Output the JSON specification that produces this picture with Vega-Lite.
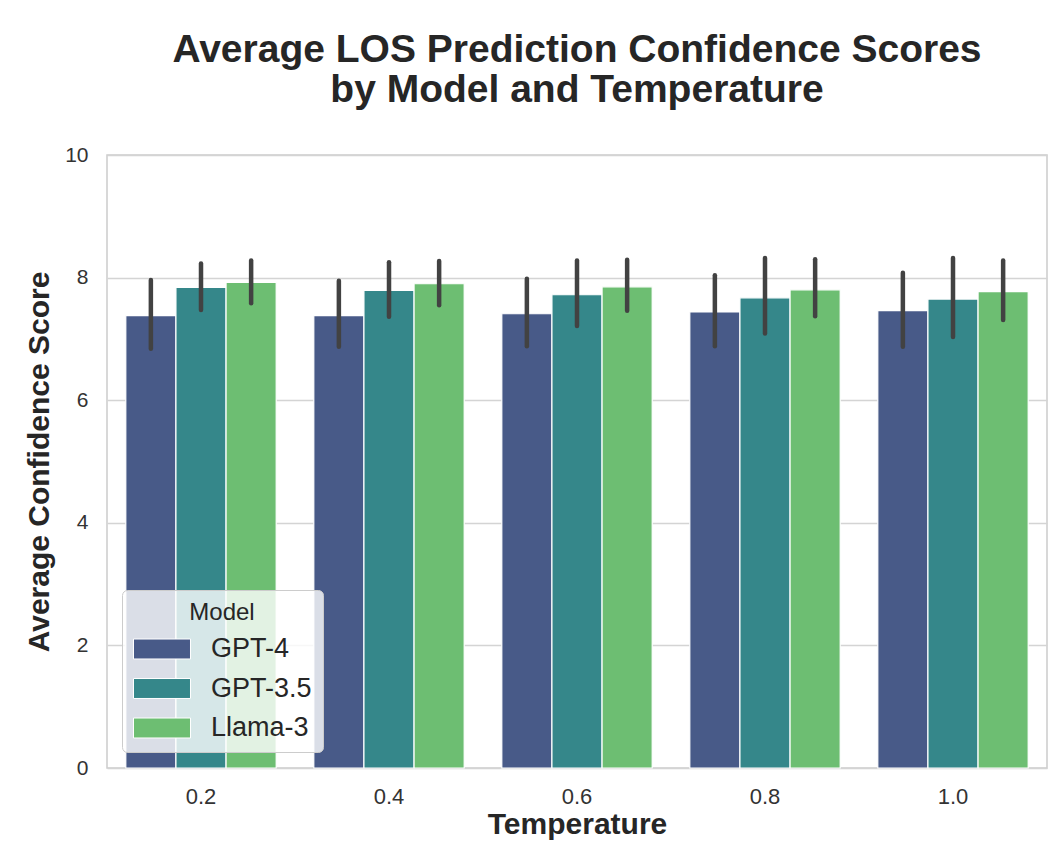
{
  "$schema": "https://vega.github.io/schema/vega-lite/v6.json",
  "width": 940,
  "height": 613,
  "autosize": {"type": "none"},
  "padding": {"left": 107, "top": 155, "right": 7, "bottom": 84},
  "background": "white",
  "title": {
    "text": ["Average LOS Prediction Confidence Scores", "by Model and Temperature"],
    "font": "Liberation Sans",
    "fontSize": 39,
    "fontWeight": "bold",
    "color": "#262626",
    "lineHeight": 40,
    "anchor": "middle",
    "offset": 34
  },
  "data": {
    "values": [
      {"temp": "0.2", "model": "GPT-4", "mean": 7.38, "lo": 6.84, "hi": 7.96},
      {"temp": "0.2", "model": "GPT-3.5", "mean": 7.84, "lo": 7.47, "hi": 8.23},
      {"temp": "0.2", "model": "Llama-3", "mean": 7.92, "lo": 7.58, "hi": 8.28},
      {"temp": "0.4", "model": "GPT-4", "mean": 7.38, "lo": 6.87, "hi": 7.95},
      {"temp": "0.4", "model": "GPT-3.5", "mean": 7.79, "lo": 7.36, "hi": 8.25},
      {"temp": "0.4", "model": "Llama-3", "mean": 7.90, "lo": 7.55, "hi": 8.27},
      {"temp": "0.6", "model": "GPT-4", "mean": 7.41, "lo": 6.88, "hi": 7.98},
      {"temp": "0.6", "model": "GPT-3.5", "mean": 7.72, "lo": 7.21, "hi": 8.28},
      {"temp": "0.6", "model": "Llama-3", "mean": 7.85, "lo": 7.46, "hi": 8.29},
      {"temp": "0.8", "model": "GPT-4", "mean": 7.44, "lo": 6.88, "hi": 8.04},
      {"temp": "0.8", "model": "GPT-3.5", "mean": 7.67, "lo": 7.09, "hi": 8.32},
      {"temp": "0.8", "model": "Llama-3", "mean": 7.80, "lo": 7.37, "hi": 8.30},
      {"temp": "1.0", "model": "GPT-4", "mean": 7.46, "lo": 6.87, "hi": 8.08},
      {"temp": "1.0", "model": "GPT-3.5", "mean": 7.65, "lo": 7.03, "hi": 8.32},
      {"temp": "1.0", "model": "Llama-3", "mean": 7.77, "lo": 7.31, "hi": 8.28}
    ]
  },
  "encoding": {
    "x": {
      "field": "temp",
      "type": "nominal",
      "sort": ["0.2", "0.4", "0.6", "0.8", "1.0"],
      "scale": {"paddingInner": 0.2, "paddingOuter": 0.1},
      "axis": {
        "title": "Temperature",
        "labelAngle": 0,
        "ticks": false,
        "domain": false,
        "grid": false,
        "labelPadding": 18,
        "labelFontSize": 22,
        "labelColor": "#333333",
        "labelFont": "Liberation Sans",
        "titleFont": "Liberation Sans",
        "titleFontSize": 30,
        "titleFontWeight": "bold",
        "titleColor": "#262626",
        "titlePadding": 2
      }
    },
    "xOffset": {
      "field": "model",
      "type": "nominal",
      "sort": ["GPT-4", "GPT-3.5", "Llama-3"],
      "scale": {"paddingInner": 0, "paddingOuter": 0}
    }
  },
  "layer": [
    {
      "mark": {"type": "bar", "stroke": "white", "strokeWidth": 1.2},
      "encoding": {
        "y": {
          "field": "mean",
          "type": "quantitative",
          "scale": {"domain": [0, 10], "nice": false},
          "axis": {
            "title": "Average Confidence Score",
            "values": [0, 2, 4, 6, 8, 10],
            "format": "d",
            "ticks": false,
            "domain": false,
            "grid": true,
            "gridColor": "#d4d4d4",
            "gridWidth": 1.5,
            "labelPadding": 19,
            "labelFontSize": 21,
            "labelColor": "#333333",
            "labelFont": "Liberation Sans",
            "titleFont": "Liberation Sans",
            "titleFontSize": 30,
            "titleFontWeight": "bold",
            "titleColor": "#262626",
            "titlePadding": 10
          }
        },
        "color": {
          "field": "model",
          "type": "nominal",
          "sort": ["GPT-4", "GPT-3.5", "Llama-3"],
          "scale": {
            "domain": ["GPT-4", "GPT-3.5", "Llama-3"],
            "range": ["#485a88", "#35878a", "#6dbe72"]
          },
          "legend": {
            "title": "Model",
            "orient": "none",
            "legendX": 15,
            "legendY": 435,
            "direction": "vertical",
            "fillColor": "rgba(255,255,255,0.8)",
            "strokeColor": "#cccccc",
            "cornerRadius": 5,
            "padding": 11,
            "titleFont": "Liberation Sans",
            "titleFontSize": 24,
            "titleFontWeight": "normal",
            "titleColor": "#262626",
            "titleAnchor": "middle",
            "titleAlign": "center",
            "titlePadding": 9,
            "labelFont": "Liberation Sans",
            "labelFontSize": 27,
            "labelColor": "#262626",
            "labelOffset": 34,
            "rowPadding": 11.5,
            "symbolType": "M-2,-0.7L2,-0.7L2,0.7L-2,0.7Z",
            "symbolSize": 812,
            "symbolOffset": 14,
            "symbolStrokeColor": "white",
            "symbolStrokeWidth": 1,
            "symbolOpacity": 1
          }
        }
      }
    },
    {
      "mark": {"type": "rule", "color": "#424242", "strokeWidth": 4.5, "strokeCap": "round"},
      "encoding": {
        "y": {"field": "lo", "type": "quantitative"},
        "y2": {"field": "hi"}
      }
    }
  ],
  "config": {
    "view": {"stroke": "#cccccc", "strokeWidth": 1.5}
  }
}
